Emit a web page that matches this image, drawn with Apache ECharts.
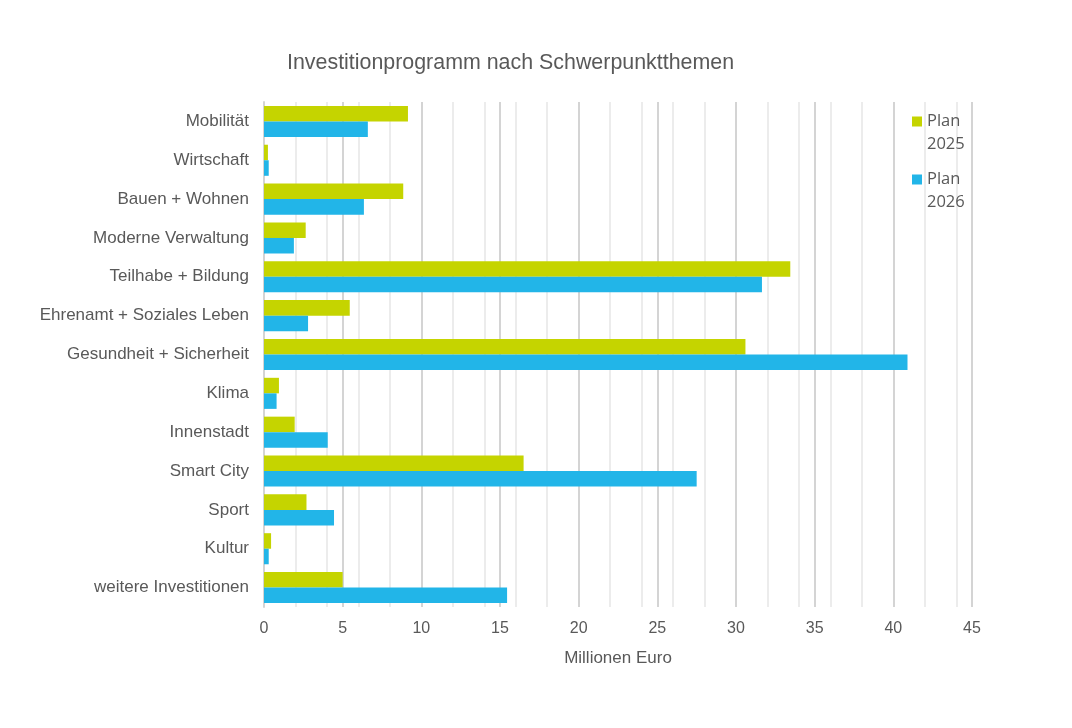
<!DOCTYPE html>
<html><head><meta charset="utf-8">
<script src="https://cdn.jsdelivr.net/npm/echarts@6/dist/echarts.min.js"></script>
<style>html,body{margin:0;padding:0;background:#fff}#c{width:1072px;height:728px}</style>
</head><body><div id="c"></div>
<script>
const categories = ["Mobilität","Wirtschaft","Bauen + Wohnen","Moderne Verwaltung","Teilhabe + Bildung","Ehrenamt + Soziales Leben","Gesundheit + Sicherheit","Klima","Innenstadt","Smart City","Sport","Kultur","weitere Investitionen"];
const plan2025 = [9.15,0.25,8.85,2.65,33.45,5.45,30.6,0.95,1.95,16.5,2.7,0.45,5.0];
const plan2026 = [6.6,0.3,6.35,1.9,31.65,2.8,40.9,0.8,4.05,27.5,4.45,0.3,15.45];
const seriesNames = ["Plan 2025","Plan 2026"];
const xMin = 0, xMax = 45, majorStep = 5, minorStep = 2;

const legendText = {fontFamily:'Open Sans, Noto Sans',fontSize:16.5,color:'#595959',lineHeight:23};
function mkLegend(name, top){
  return {orient:'vertical',left:912,top:top,padding:0,itemWidth:10,itemHeight:10,icon:'rect',
    formatter:n=>'\u00a0\n'+n.replace(' ','\n'),textStyle:legendText,data:[name]};
}
const chart = echarts.init(document.getElementById('c'));
chart.setOption({
  animation:false,
  title:{text:"Investitionprogramm nach Schwerpunktthemen",left:282,top:48,
    textStyle:{fontFamily:'Liberation Sans, Arial',fontSize:21.4,fontWeight:'normal',color:'#595959'}},
  legend:[mkLegend(seriesNames[0],87),mkLegend(seriesNames[1],145)],
  grid:{left:264,right:100,top:102,bottom:121,containLabel:false},
  xAxis:[{type:'value',min:xMin,max:xMax,interval:majorStep,z:2,
    axisLine:{show:false},axisTick:{show:false},
    splitLine:{show:true,lineStyle:{color:'#d4d4d4',width:2}},
    axisLabel:{fontFamily:'Liberation Sans, Arial',fontSize:16,color:'#595959',margin:14},
    name:'Millionen Euro',nameLocation:'middle',nameGap:43,
    nameTextStyle:{fontFamily:'Liberation Sans, Arial',fontSize:17,color:'#595959'}},
   {type:'value',min:xMin,max:xMax,interval:minorStep,position:'bottom',z:1,
    axisLine:{show:false},axisTick:{show:false},axisLabel:{show:false},
    splitLine:{show:true,lineStyle:{color:'#ececec',width:2}}}],
  yAxis:{type:'category',data:categories,inverse:true,z:3,
    axisLine:{show:true,lineStyle:{color:'#d4d4d4',width:2}},axisTick:{show:false},
    axisLabel:{fontFamily:'Liberation Sans, Arial',fontSize:17,color:'#595959',margin:15}},
  series:[
    {name:seriesNames[0],type:'bar',data:plan2025,itemStyle:{color:'#c5d400'},barGap:'0%',barCategoryGap:'20%',z:3},
    {name:seriesNames[1],type:'bar',data:plan2026,itemStyle:{color:'#22b5e8'},barGap:'0%',barCategoryGap:'20%',z:3}
  ]
});
</script></body></html>
